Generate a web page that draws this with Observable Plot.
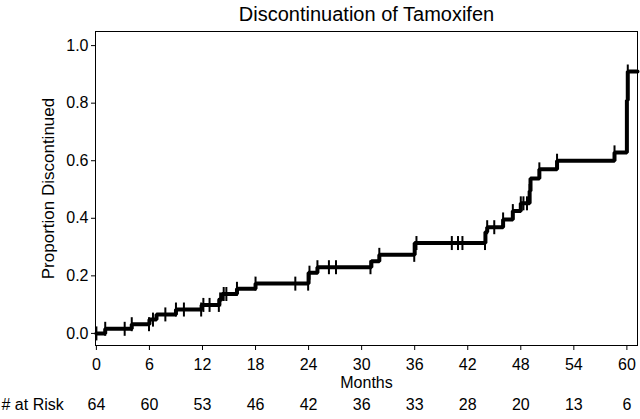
<!DOCTYPE html>
<html><head><meta charset="utf-8">
<script src="https://cdn.jsdelivr.net/npm/d3@7"></script>
<script src="https://cdn.jsdelivr.net/npm/@observablehq/plot@0.6"></script>
<style>body{margin:0;background:#fff} svg{display:block}</style>
</head><body><div id="chart"></div>
<script>
// Kaplan-Meier style step curve (months, proportion discontinued)
const stepTimes  = [0, 1.0, 4.0, 6.0, 6.8, 9.0, 11.9, 13.9, 14.2, 15.9, 18.0, 24.0, 25.0, 31.1, 32.0, 36.0, 44.0, 44.2, 46.0, 47.1, 48.0, 49.0, 49.1, 50.1, 52.1, 58.6, 60.0, 60.1, 61.2];
const stepValues = [0, 0.016, 0.032, 0.048, 0.066, 0.083, 0.099, 0.118, 0.137, 0.155, 0.173, 0.211, 0.230, 0.251, 0.273, 0.314, 0.352, 0.369, 0.396, 0.425, 0.452, 0.495, 0.538, 0.570, 0.600, 0.629, 0.81, 0.91, 0.91];
// censoring tick times
const censorTimes = [0, 1.0, 3.2, 4.0, 5.95, 6.4, 7.8, 9.0, 9.9, 11.85, 12.1, 12.8, 13.85, 14.0, 14.4, 14.7, 15.9, 18.0, 22.5, 23.95, 24.1, 25.0, 26.3, 27.1, 31.0, 32.0, 35.95, 36.2, 40.2, 40.9, 41.4, 43.95, 44.2, 45.0, 46.0, 47.1, 48.0, 48.3, 48.7, 49.0, 50.1, 52.1, 58.6, 60.1];
const xTicks = [0, 6, 12, 18, 24, 30, 36, 42, 48, 54, 60];
const atRisk = [64, 60, 53, 46, 42, 36, 33, 28, 20, 13, 6];
const yTicks = [0, 0.2, 0.4, 0.6, 0.8, 1.0];

const steps = stepTimes.map((t, i) => ({t, p: stepValues[i]}));
const levelAt = t => stepValues[d3.bisectRight(stepTimes, t) - 1];
const censors = censorTimes.map(t => ({t, p: levelAt(t)}));
const risk = xTicks.map((t, i) => ({t, n: atRisk[i]}));

const vbar = {draw(ctx) { ctx.moveTo(0, -7); ctx.lineTo(0, 7); }};

const chart = Plot.plot({
  width: 640, height: 419,
  marginLeft: 95, marginRight: 3, marginTop: 31, marginBottom: 74,
  x: {domain: [-0.1, 61.2]},
  y: {domain: [-0.042, 1.049]},
  style: {fontFamily: "'Liberation Sans', Arial, sans-serif", background: "white", color: "black"},
  marks: [
    Plot.frame({stroke: "black", strokeWidth: 1}),
    Plot.axisX({ticks: xTicks, tickSize: 5, tickPadding: 8, fontSize: 16, label: null}),
    Plot.axisY({ticks: yTicks, tickSize: 4, tickPadding: 3, fontSize: 16, tickFormat: d3.format(".1f"), label: null}),
    Plot.line(steps, {x: "t", y: "p", curve: "step-after", stroke: "black", strokeWidth: 4, strokeLinejoin: "miter"}),
    Plot.dot(censors, {x: "t", y: "p", symbol: vbar, fill: "none", stroke: "black", strokeWidth: 2}),
    Plot.text(["Discontinuation of Tamoxifen"], {text: d => d, frameAnchor: "top", dy: -25, fontSize: 20}),
    Plot.text(["Months"], {text: d => d, frameAnchor: "bottom", dy: 42, fontSize: 16}),
    Plot.text(["Proportion Discontinued"], {text: d => d, frameAnchor: "left", dx: -47, rotate: -90, textAnchor: "middle", fontSize: 17}),
    Plot.text(risk, {x: "t", text: "n", frameAnchor: "bottom", dy: 64, fontSize: 16}),
    Plot.text(["# at Risk"], {text: d => d, frameAnchor: "bottom-left", dx: -94, dy: 64, textAnchor: "start", fontSize: 16})
  ]
});
document.getElementById("chart").appendChild(chart);
</script>
</body></html>
